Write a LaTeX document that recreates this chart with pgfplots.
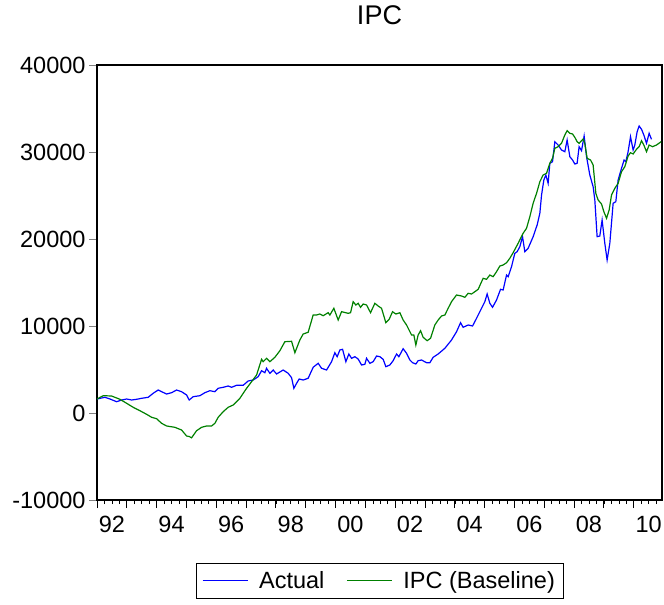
\documentclass[border=0pt]{standalone}
\usepackage{pgfplots}
\pgfplotsset{compat=1.18}
\usepackage{fontspec}
\setmainfont{Liberation Sans}
\definecolor{evblue}{RGB}{0,0,255}
\definecolor{evgreen}{RGB}{0,128,0}
\begin{document}
\begin{tikzpicture}
\begin{axis}[
  scale only axis, width=565pt, height=435pt,
  xmin=1992, xmax=2010.95, ymin=-10000, ymax=40000,
  scaled y ticks=false, scaled x ticks=false,
  axis line style={line width=1.6pt, black},
  tick align=outside, xtick pos=bottom, ytick pos=left,
  major tick length=8pt, minor tick length=4pt,
  tick style={line width=0.8pt, black},
  y tick style={gray},
  ytick={-10000,0,10000,20000,30000,40000},
  yticklabels={-10000,0,10000,20000,30000,40000},
  xtick={1992,1993,...,2010},
  xticklabels={},
  minor xtick={1992,1992.25,...,2010.75},
  extra x ticks={1992.5,1994.5,1996.5,1998.5,2000.5,2002.5,2004.5,2006.5,2008.5,2010.5},
  extra x tick labels={92,94,96,98,00,02,04,06,08,10},
  extra x tick style={tick style={draw=none}},
  tick label style={font=\fontsize{23.5}{28}\selectfont},
  x tick label style={yshift=-5pt},
  title={IPC},
  title style={at={(0.5,1)}, anchor=base, yshift=34pt, font=\fontsize{27}{32}\selectfont},
  legend columns=2,
  legend style={at={(0.5,0)}, anchor=north, yshift=-63pt, draw=black, line width=0.8pt,
    font=\fontsize{23.5}{28}\selectfont, inner xsep=6pt, inner ysep=6pt,
    /tikz/every odd column/.append style={column sep=9pt},
    /tikz/every even column/.append style={column sep=20pt}},
  legend image code/.code={\draw[#1, line width=1pt] (0pt,0pt) -- (45pt,0pt);},
]
\addplot[evblue, line width=1.2pt] coordinates {
(1992.000,1610)(1992.265,1805)(1992.433,1609)(1992.657,1299)(1992.825,1494)(1992.993,1609)(1993.160,1494)(1993.328,1575)(1993.496,1690)(1993.717,1805)(1993.885,2264)(1994.052,2644)(1994.166,2448)(1994.334,2184)(1994.502,2333)(1994.669,2644)(1994.837,2448)(1995.005,2069)(1995.092,1494)(1995.226,1874)(1995.451,1988)(1995.618,2333)(1995.786,2563)(1995.954,2448)(1996.064,2839)(1996.232,2954)(1996.400,3103)(1996.514,2954)(1996.681,3184)(1996.903,3184)(1997.070,3678)(1997.238,3793)(1997.406,4172)(1997.520,4862)(1997.630,4632)(1997.687,5138)(1997.798,4563)(1997.909,4942)(1998.023,4483)(1998.244,4942)(1998.412,4563)(1998.526,4057)(1998.603,2839)(1998.694,3414)(1998.781,3908)(1998.915,3793)(1999.082,3988)(1999.250,5253)(1999.418,5713)(1999.532,5138)(1999.700,4942)(1999.867,5896)(1999.978,6931)(2000.055,6471)(2000.146,7241)(2000.236,7322)(2000.347,5896)(2000.447,6781)(2000.538,6287)(2000.649,6471)(2000.759,6207)(2000.873,5517)(2000.984,5598)(2001.041,6287)(2001.152,5713)(2001.262,5896)(2001.376,6552)(2001.487,6471)(2001.598,6172)(2001.688,5322)(2001.822,5517)(2001.933,6011)(2002.047,6781)(2002.124,6471)(2002.268,7391)(2002.382,6862)(2002.493,6092)(2002.584,5781)(2002.694,5632)(2002.771,6011)(2002.885,6092)(2003.053,5781)(2003.164,5781)(2003.274,6402)(2003.442,6781)(2003.667,7437)(2003.891,8391)(2004.059,9345)(2004.193,10379)(2004.280,9850)(2004.448,10115)(2004.596,10000)(2004.730,10885)(2004.897,12034)(2005.008,12793)(2005.085,13678)(2005.176,12609)(2005.266,12149)(2005.400,12988)(2005.535,14218)(2005.622,14138)(2005.736,15862)(2005.790,15666)(2005.903,16816)(2006.014,18356)(2006.091,18540)(2006.182,19115)(2006.272,20264)(2006.349,18540)(2006.460,18931)(2006.628,20264)(2006.762,21609)(2006.853,22953)(2006.910,25057)(2006.987,26781)(2007.054,27356)(2007.131,26402)(2007.188,28700)(2007.278,28884)(2007.356,31183)(2007.466,30804)(2007.580,30229)(2007.691,30034)(2007.768,31379)(2007.859,29459)(2007.949,29080)(2008.026,28620)(2008.103,28700)(2008.170,30609)(2008.251,30149)(2008.338,31838)(2008.419,29459)(2008.529,27356)(2008.640,26011)(2008.697,24482)(2008.774,20264)(2008.864,20344)(2008.941,22183)(2009.032,19505)(2009.109,17586)(2009.200,19505)(2009.311,24103)(2009.401,24287)(2009.478,26781)(2009.592,28126)(2009.679,29080)(2009.736,28884)(2009.813,30034)(2009.894,31758)(2009.981,30229)(2010.038,30804)(2010.116,32333)(2010.183,32988)(2010.263,32609)(2010.340,31953)(2010.431,30999)(2010.518,32149)(2010.598,31459)
};
\addlegendentry{Actual}
\addplot[evgreen, line width=1.2pt] coordinates {
(1992.000,1609)(1992.208,1988)(1992.490,1954)(1992.768,1575)(1992.993,1115)(1993.214,655)(1993.439,264)(1993.663,-149)(1993.831,-494)(1993.999,-655)(1994.166,-1184)(1994.334,-1494)(1994.612,-1644)(1994.837,-1954)(1995.005,-2644)(1995.092,-2701)(1995.172,-2850)(1995.340,-2034)(1995.508,-1644)(1995.675,-1494)(1995.843,-1494)(1995.954,-1184)(1996.064,-494)(1996.232,149)(1996.400,655)(1996.567,920)(1996.792,1690)(1997.017,2839)(1997.184,3598)(1997.352,4368)(1997.520,6172)(1997.573,5896)(1997.687,6287)(1997.798,5896)(1997.966,6402)(1998.134,7161)(1998.301,8195)(1998.526,8241)(1998.637,6931)(1998.804,8391)(1998.915,9080)(1999.082,9276)(1999.250,11264)(1999.364,11264)(1999.475,11379)(1999.586,11184)(1999.753,11529)(1999.810,11264)(1999.944,12034)(2000.089,10689)(2000.203,11644)(2000.424,11459)(2000.504,11529)(2000.592,12793)(2000.682,12414)(2000.759,12609)(2000.840,12149)(2000.927,12528)(2001.041,12414)(2001.175,11529)(2001.319,12609)(2001.430,12299)(2001.544,12034)(2001.688,10379)(2001.799,10770)(2001.913,11644)(2002.023,11379)(2002.158,11529)(2002.268,10689)(2002.382,10115)(2002.550,8965)(2002.627,8965)(2002.694,7816)(2002.771,8965)(2002.852,9460)(2002.939,8701)(2003.073,8310)(2003.187,8586)(2003.331,10115)(2003.442,10689)(2003.556,11149)(2003.667,11264)(2003.777,12034)(2003.891,12793)(2004.059,13563)(2004.227,13448)(2004.338,13298)(2004.448,13758)(2004.562,13678)(2004.673,13942)(2004.784,14218)(2004.951,15482)(2005.065,15367)(2005.176,15862)(2005.286,15666)(2005.400,16241)(2005.511,16896)(2005.622,17011)(2005.736,17275)(2005.846,17781)(2005.957,18425)(2006.125,19505)(2006.292,20654)(2006.406,21229)(2006.517,22563)(2006.628,24103)(2006.742,25252)(2006.853,26586)(2006.963,27356)(2007.077,27551)(2007.188,28700)(2007.278,29275)(2007.356,30425)(2007.466,30609)(2007.580,30999)(2007.691,31953)(2007.768,32448)(2007.859,32149)(2007.949,32068)(2008.026,31689)(2008.103,31183)(2008.170,30999)(2008.251,31298)(2008.304,31494)(2008.361,30999)(2008.439,29275)(2008.553,29080)(2008.640,28505)(2008.731,25252)(2008.808,24482)(2008.922,24022)(2009.000,23137)(2009.090,22379)(2009.177,23333)(2009.257,25057)(2009.368,25827)(2009.478,26402)(2009.592,27735)(2009.703,28310)(2009.813,29540)(2009.894,29919)(2009.981,29769)(2010.095,30310)(2010.183,30609)(2010.263,31298)(2010.340,30804)(2010.431,30034)(2010.518,30804)(2010.632,30609)(2010.766,30804)(2010.920,31183)
};
\addlegendentry{IPC (Baseline)}
\end{axis}
\pgfresetboundingbox
\path[use as bounding box] (-97pt,-105pt) rectangle (567pt,500pt);
\end{tikzpicture}
\end{document}
